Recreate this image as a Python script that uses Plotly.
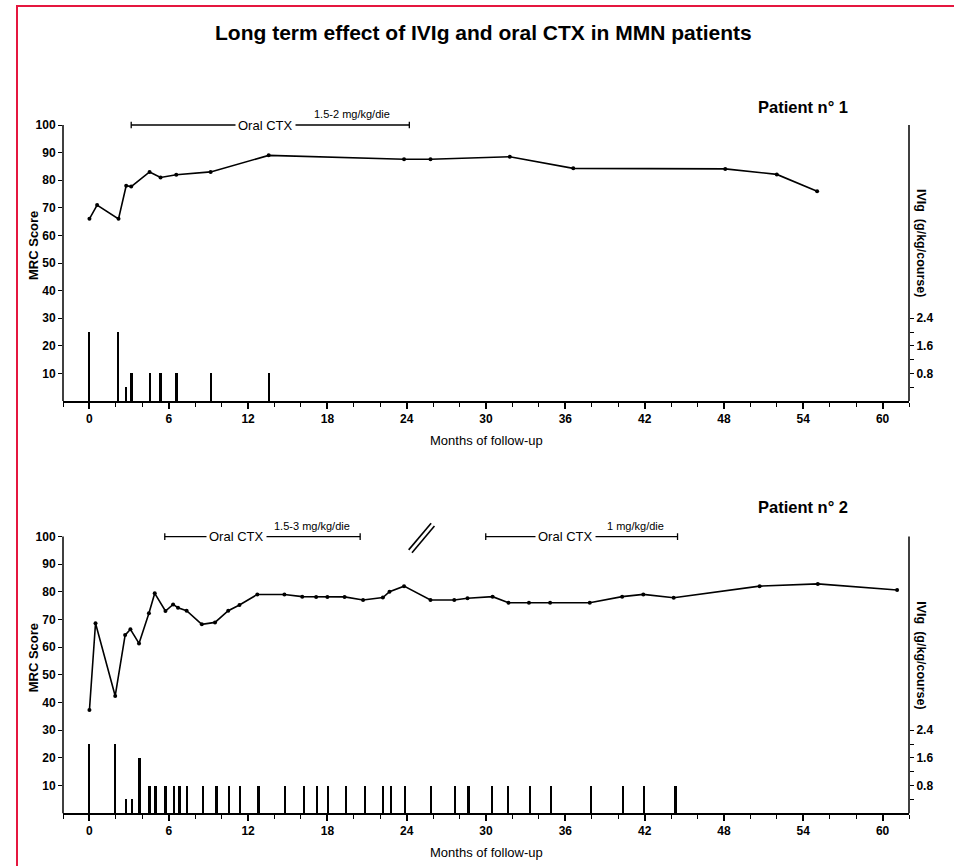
import plotly.graph_objects as go

# ---------------- data ----------------
# Patient 1: MRC score over months of follow-up
p1_months = [0, 0.58, 2.2, 2.78, 3.16, 4.55, 5.38, 6.57, 9.17, 13.56, 23.8, 25.8,
             31.8, 36.6, 48.1, 52.0, 55.05]
p1_mrc = [66, 71, 66, 78, 77.7, 83, 81, 82, 83, 89, 87.6, 87.6,
          88.5, 84.3, 84.1, 82.1, 76]
# Patient 1: IVIg courses (g/kg/course)
p1_ivig_months = [0, 2.2, 2.8, 3.2, 4.6, 5.4, 6.6, 9.2, 13.6]
p1_ivig_dose = [2.0, 2.0, 0.4, 0.8, 0.8, 0.8, 0.8, 0.8, 0.8]
# Patient 1: oral CTX periods (start, end, dose)
p1_ctx_start = [3.16]
p1_ctx_end = [24.2]
p1_ctx_dose = ["1.5-2 mg/kg/die"]

# Patient 2: MRC score
p2_months = [0, 0.46, 1.95, 2.7, 3.1, 3.75, 4.5, 4.94, 5.75, 6.33, 6.7, 7.35, 8.5,
             9.5, 10.5, 11.35, 12.7, 14.75, 16.1, 17.15, 18.0, 19.3, 20.7, 22.2,
             22.7, 23.8, 25.8, 27.6, 28.6, 30.5, 31.7, 33.25, 34.85, 37.85, 40.3,
             41.9, 44.2, 50.7, 55.1, 61.1]
p2_mrc = [37.3, 68.7, 42.4, 64.4, 66.5, 61.4, 72.3, 79.5, 73.1, 75.5, 74.3, 73.2, 68.3,
          69, 73.2, 75.3, 79.1, 79.1, 78.3, 78.2, 78.2, 78.2, 77.1, 78,
          80.1, 82.1, 77.1, 77.1, 77.7, 78.3, 76.1, 76.1, 76.1, 76.1, 78.3,
          79.1, 77.9, 82.1, 82.9, 80.7]
# Patient 2: IVIg courses
p2_ivig_months = [0, 1.97, 2.79, 3.22, 3.8, 4.56, 5.02, 5.78, 6.41, 6.84, 7.4, 8.62,
                  9.63, 10.6, 11.4, 12.8, 14.83, 16.27, 17.23, 18.05, 19.44, 20.84,
                  22.23, 22.86, 23.87, 25.85, 27.68, 28.69, 30.5, 31.68, 33.33, 34.93,
                  37.97, 40.38, 41.95, 44.36]
p2_ivig_dose = [2.0, 2.0, 0.4, 0.4, 1.6] + [0.8] * 31
# Patient 2: oral CTX periods
p2_ctx_start = [5.7, 29.98]
p2_ctx_end = [20.48, 44.49]
p2_ctx_dose = ["1.5-3 mg/kg/die", "1 mg/kg/die"]
# axis break marker (month) for patient 2
p2_break_month = [24.15]

x_tickvals = [0, 6, 12, 18, 24, 30, 36, 42, 48, 54, 60]
mrc_tickvals = [10, 20, 30, 40, 50, 60, 70, 80, 90, 100]
ivig_tickvals = [0.4, 0.8, 1.2, 1.6, 2.0, 2.4]
ivig_ticktext = ["", "0.8", "", "1.6", "", "2.4"]

patient_labels = ["Patient n° 1", "Patient n° 2"]
title_text = "Long term effect of IVIg and oral CTX in MMN patients"

# ---------------- layout constants ----------------
W, H = 954, 866
FONT = "Liberation Sans, Arial, Helvetica, sans-serif"
YMAX = 106.0
IVIG_SCALE = 0.08  # 0.8 g/kg corresponds to 10 MRC units
X_DOMAIN = [63 / W, 909 / W]
TOP_DOMAIN = [1 - 401 / H, 1 - (401 - YMAX * 2.76) / H]
BOT_DOMAIN = [1 - 813.3 / H, 1 - (813.3 - YMAX * 2.767) / H]

fig = go.Figure()

panels = [
    dict(xa="x", ya="y", ya2="y2", months=p1_months, mrc=p1_mrc,
         im=p1_ivig_months, idose=p1_ivig_dose,
         cs=p1_ctx_start, ce=p1_ctx_end, cd=p1_ctx_dose),
    dict(xa="x2", ya="y3", ya2="y4", months=p2_months, mrc=p2_mrc,
         im=p2_ivig_months, idose=p2_ivig_dose,
         cs=p2_ctx_start, ce=p2_ctx_end, cd=p2_ctx_dose),
]

for p in panels:
    fig.add_trace(go.Bar(x=p["im"], y=p["idose"], width=0.13,
                         marker=dict(color="black", line=dict(width=0)),
                         xaxis=p["xa"], yaxis=p["ya2"], showlegend=False))
    fig.add_trace(go.Scatter(x=p["months"], y=p["mrc"], mode="lines+markers",
                             line=dict(color="black", width=1.6),
                             marker=dict(color="black", size=4),
                             xaxis=p["xa"], yaxis=p["ya"], showlegend=False))

tickfont = dict(family=FONT, size=12, color="black", weight="bold")

xaxis_common = dict(range=[-2, 62], tickvals=x_tickvals, ticks="outside", ticklen=6,
                    tickwidth=1.5, tickcolor="black", showline=True, linewidth=1.5,
                    linecolor="black", showgrid=False, zeroline=False,
                    tickfont=tickfont, domain=X_DOMAIN,
                    minor=dict(dtick=2, tick0=0, ticks="outside", ticklen=4,
                               tickwidth=1.2, tickcolor="black", showgrid=False))
yaxis_common = dict(range=[0, YMAX], tickvals=mrc_tickvals, ticks="outside", ticklen=4,
                    tickwidth=1.2, tickcolor="black", showline=False, showgrid=False,
                    zeroline=False, tickfont=tickfont)
y2_common = dict(range=[0, YMAX * IVIG_SCALE], tickvals=ivig_tickvals,
                 ticktext=ivig_ticktext, ticks="outside", ticklen=4, tickwidth=1.2,
                 tickcolor="black", showline=False, showgrid=False, zeroline=False,
                 side="right", tickfont=tickfont)

fig.update_layout(
    width=W, height=H, margin=dict(l=0, r=0, t=0, b=0),
    paper_bgcolor="white", plot_bgcolor="white", showlegend=False, bargap=0,
    font=dict(family=FONT, color="black"),
    xaxis=dict(**xaxis_common, anchor="y"),
    xaxis2=dict(**xaxis_common, anchor="y3"),
    yaxis=dict(**yaxis_common, domain=TOP_DOMAIN, anchor="x"),
    yaxis2=dict(**y2_common, overlaying="y", anchor="x"),
    yaxis3=dict(**yaxis_common, domain=BOT_DOMAIN, anchor="x2"),
    yaxis4=dict(**y2_common, overlaying="y3", anchor="x2"),
)

shapes = []
annotations = []
line_style = dict(color="black", width=1.5)
C = dict(xanchor="center", yanchor="middle", showarrow=False)

panel_px = [dict(axis_y=401), dict(axis_y=813.3)]
ctx_label_months = [[13.33], [11.1, 36.03]]
dose_label_months = [[19.9], [16.87, 41.3]]
patient_label_px = [107, 507]

for i, p in enumerate(panels):
    xa, ya = p["xa"], p["ya"]
    # vertical axis lines (0 to 100)
    for xd in (0, 1):
        shapes.append(dict(type="line", xref=f"{xa} domain", yref=f"{ya} domain",
                           x0=xd, x1=xd, y0=0, y1=100 / YMAX, line=line_style))
    # oral CTX brackets
    for j, (s, e, d) in enumerate(zip(p["cs"], p["ce"], p["cd"])):
        shapes.append(dict(type="line", xref=xa, yref=ya, x0=s, x1=e, y0=100, y1=100,
                           line=dict(color="black", width=1.3)))
        for xe in (s, e):
            shapes.append(dict(type="line", xref=xa, yref=ya, x0=xe, x1=xe,
                               y0=98.8, y1=101.2, line=dict(color="black", width=1.3)))
        annotations.append(dict(xref=xa, yref=ya, x=ctx_label_months[i][j], y=100,
                                text="Oral CTX", bgcolor="white", borderpad=2,
                                font=dict(family=FONT, size=13, color="black"), **C))
        annotations.append(dict(xref=xa, yref=ya, x=dose_label_months[i][j], y=100,
                                yshift=11, text=d,
                                font=dict(family=FONT, size=11, color="black"), **C))
    ay = panel_px[i]["axis_y"]
    # x-axis title
    annotations.append(dict(xref=f"{xa} domain", yref="paper", x=0.5,
                            y=1 - (ay + 39) / H, text="Months of follow-up",
                            font=dict(family=FONT, size=13, color="black"), **C))
    # left axis title
    annotations.append(dict(xref="paper", yref="paper", x=33 / W,
                            y=1 - (ay - 155) / H, text="<b>MRC Score</b>",
                            textangle=-90,
                            font=dict(family=FONT, size=13, color="black"), **C))
    # right axis title
    annotations.append(dict(xref="paper", yref="paper", x=921 / W,
                            y=1 - (ay - 158) / H, text="<b>IVIg  (g/kg/course)</b>",
                            textangle=90,
                            font=dict(family=FONT, size=12.5, color="black"), **C))
    # patient label
    annotations.append(dict(xref="paper", yref="paper", x=803 / W,
                            y=1 - patient_label_px[i] / H,
                            text=f"<b>{patient_labels[i]}</b>",
                            font=dict(family=FONT, size=16.5, color="black"), **C))

# axis break marker on patient 2
for bm in p2_break_month:
    for off in (0.0, 0.25):
        shapes.append(dict(type="line", xref="x2", yref="y3",
                           x0=bm + off, x1=bm + off + 1.7, y0=95.2 - off * 4,
                           y1=104.8 - off * 4, line=dict(color="black", width=1.6)))

# main title
annotations.append(dict(xref="paper", yref="paper", x=484 / W, y=1 - 33 / H,
                        text=f"<b>{title_text}</b>",
                        font=dict(family=FONT, size=21, color="black"), **C))

# red frame (right and bottom edges fall outside the page)
frame_col = "#e5173f"
shapes.append(dict(type="rect", xref="paper", yref="paper", x0=17 / W, x1=1.1,
                   y0=-0.1, y1=1 - 6 / H, line=dict(color=frame_col, width=2),
                   fillcolor="rgba(0,0,0,0)"))

fig.update_layout(shapes=shapes, annotations=annotations)
fig.write_html("out.html", config={"displayModeBar": False})
